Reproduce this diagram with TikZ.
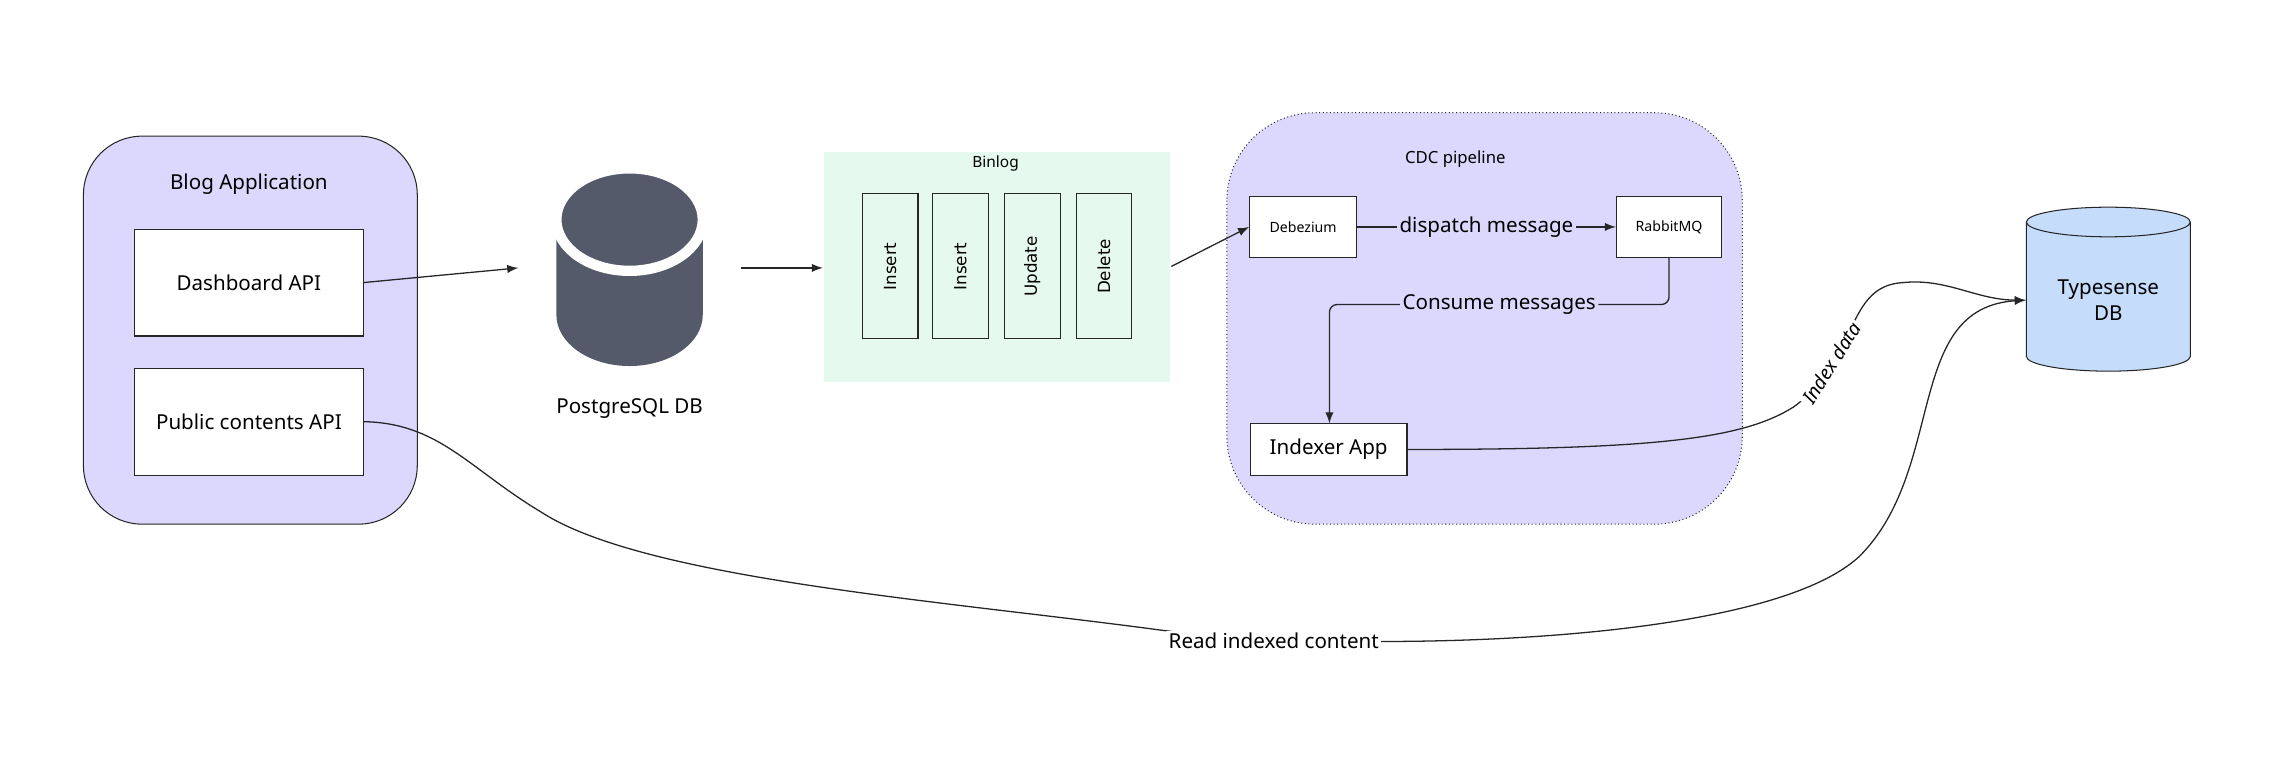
\documentclass[tikz,border=0pt]{standalone}
\usepackage{fontspec}
\setmainfont{Noto Sans}
\newfontfamily\monofont{DejaVu Sans}
\usetikzlibrary{calc,positioning,shapes.geometric}
\definecolor{grouppurple}{HTML}{DCD8FD}
\definecolor{binloggreen}{HTML}{E6F9EE}
\definecolor{pgslate}{HTML}{545A69}
\definecolor{tsblue}{HTML}{C5DCFB}
\tikzset{
  box/.style={draw=black!85, fill=white, minimum width=#1, inner sep=0pt},
  logbox/.style={draw=black!85, fill=binloggreen, minimum width=38*0.02cm, minimum height=99*0.02cm, inner sep=0pt},
  conn/.style={draw=black!85, line width=0.5pt},
  lbl/.style={fill=white, inner sep=1pt, font=\fontsize{8}{9}\selectfont},
}
\begin{document}
\begin{tikzpicture}[x=0.02cm,y=-0.02cm,>=latex]
	\useasboundingbox (0,0) rectangle (1560,526);

	% Blog application group
	\draw[black!85, fill=grouppurple, rounded corners=40*0.02cm] (57,93) rectangle (285,358);
	\node[font=\fontsize{8}{9}\selectfont] (blogtitle) at (170,126) {Blog Application};
	\node[box=156*0.02cm, minimum height=73*0.02cm, font=\fontsize{8}{9}\selectfont] (dash) at (170,193) {Dashboard API};
	\node[box=156*0.02cm, minimum height=73*0.02cm, font=\fontsize{8}{9}\selectfont] (public) at (170,288) {Public contents API};

	% PostgreSQL icon
	\fill[pgslate] (380,150) -- (380,215) arc[start angle=180, end angle=0, x radius=50, y radius=35] -- (480,150) -- cycle;
	\fill[pgslate, draw=white, line width=4pt] (430,150) ellipse[x radius=50, y radius=35];
	\coordinate (pgin) at (354,183);
	\coordinate (pgout) at (506,183);
	\node[font=\fontsize{8}{9}\selectfont] (pglabel) at (430,279) {PostgreSQL DB};

	% Binlog
	\fill[binloggreen] (563,104) rectangle (799,261);
	\node[font=\fontsize{6}{7}\selectfont] (binlogtitle) at (680,112) {Binlog};
	\foreach \x/\t [count=\i] in {608/Insert, 656/Insert, 705/Update, 754/Delete}
		\node[logbox] (log\i) at (\x,182) {\rotatebox{90}{\monofont\fontsize{6.5}{7}\selectfont \t}};
	\coordinate (binin) at (562,183);
	\coordinate (binout) at (800,182);

	% CDC pipeline group
	\draw[black!85, densely dotted, fill=grouppurple, rounded corners=60*0.02cm] (838,77) rectangle (1190,358);
	\node[font=\fontsize{6.5}{8}\selectfont] (cdctitle) at (994,109) {CDC pipeline};
	\node[box=73*0.02cm, minimum height=42*0.02cm, font=\fontsize{5.5}{6}\selectfont] (debezium) at (890,155) {Debezium};
	\node[box=72*0.02cm, minimum height=42*0.02cm, font=\fontsize{5.5}{6}\selectfont] (rabbit) at (1140,155) {RabbitMQ};
	\node[box=107*0.02cm, minimum height=35*0.02cm, font=\fontsize{8}{9}\selectfont] (indexer) at (907.5,307) {Indexer App};

	% Typesense DB
	\node[cylinder, shape border rotate=90, aspect=0.25, draw=black!85, fill=tsblue,
		minimum width=112*0.02cm, minimum height=112*0.02cm, align=center,
		font=\fontsize{8}{10}\selectfont] (typesense) at (1440,205) {Typesense\\DB};

	% Connectors
	\draw[conn,->] (dash.east) -- (pgin);
	\draw[conn,->] (pgout) -- (binin);
	\draw[conn,->] (binout) -- (debezium.west);
	\draw[conn,->] (debezium) -- node[lbl, fill=grouppurple] {dispatch message} (rabbit);
	\draw[conn,->, rounded corners=3pt] (rabbit.south) |- node[lbl, fill=grouppurple, pos=0.75] {Consume messages} (908,208) -- (indexer.north -| 908,0);
	\draw[conn,->] (indexer.east) .. controls (1130,307) and (1190,300) .. (1225,278)
		.. controls (1270,245) and (1260,195) .. (1300,193)
		.. controls (1330,190) and (1350,205) .. (typesense.west);
	\node[lbl, rotate=58, font=\fontsize{7.5}{9}\itshape] (idxlabel) at (1251,248) {Index data};
	\draw[conn,->] (public.east) .. controls (300,289) and (320,320) .. (370,350)
		.. controls (440,395) and (640,410) .. (790,430)
		.. controls (900,445) and (1200,445) .. (1270,380)
		.. controls (1330,320) and (1300,210) .. (typesense.west);
	\node[lbl] (readlabel) at (870,438) {Read indexed content};

\end{tikzpicture}
\end{document}
